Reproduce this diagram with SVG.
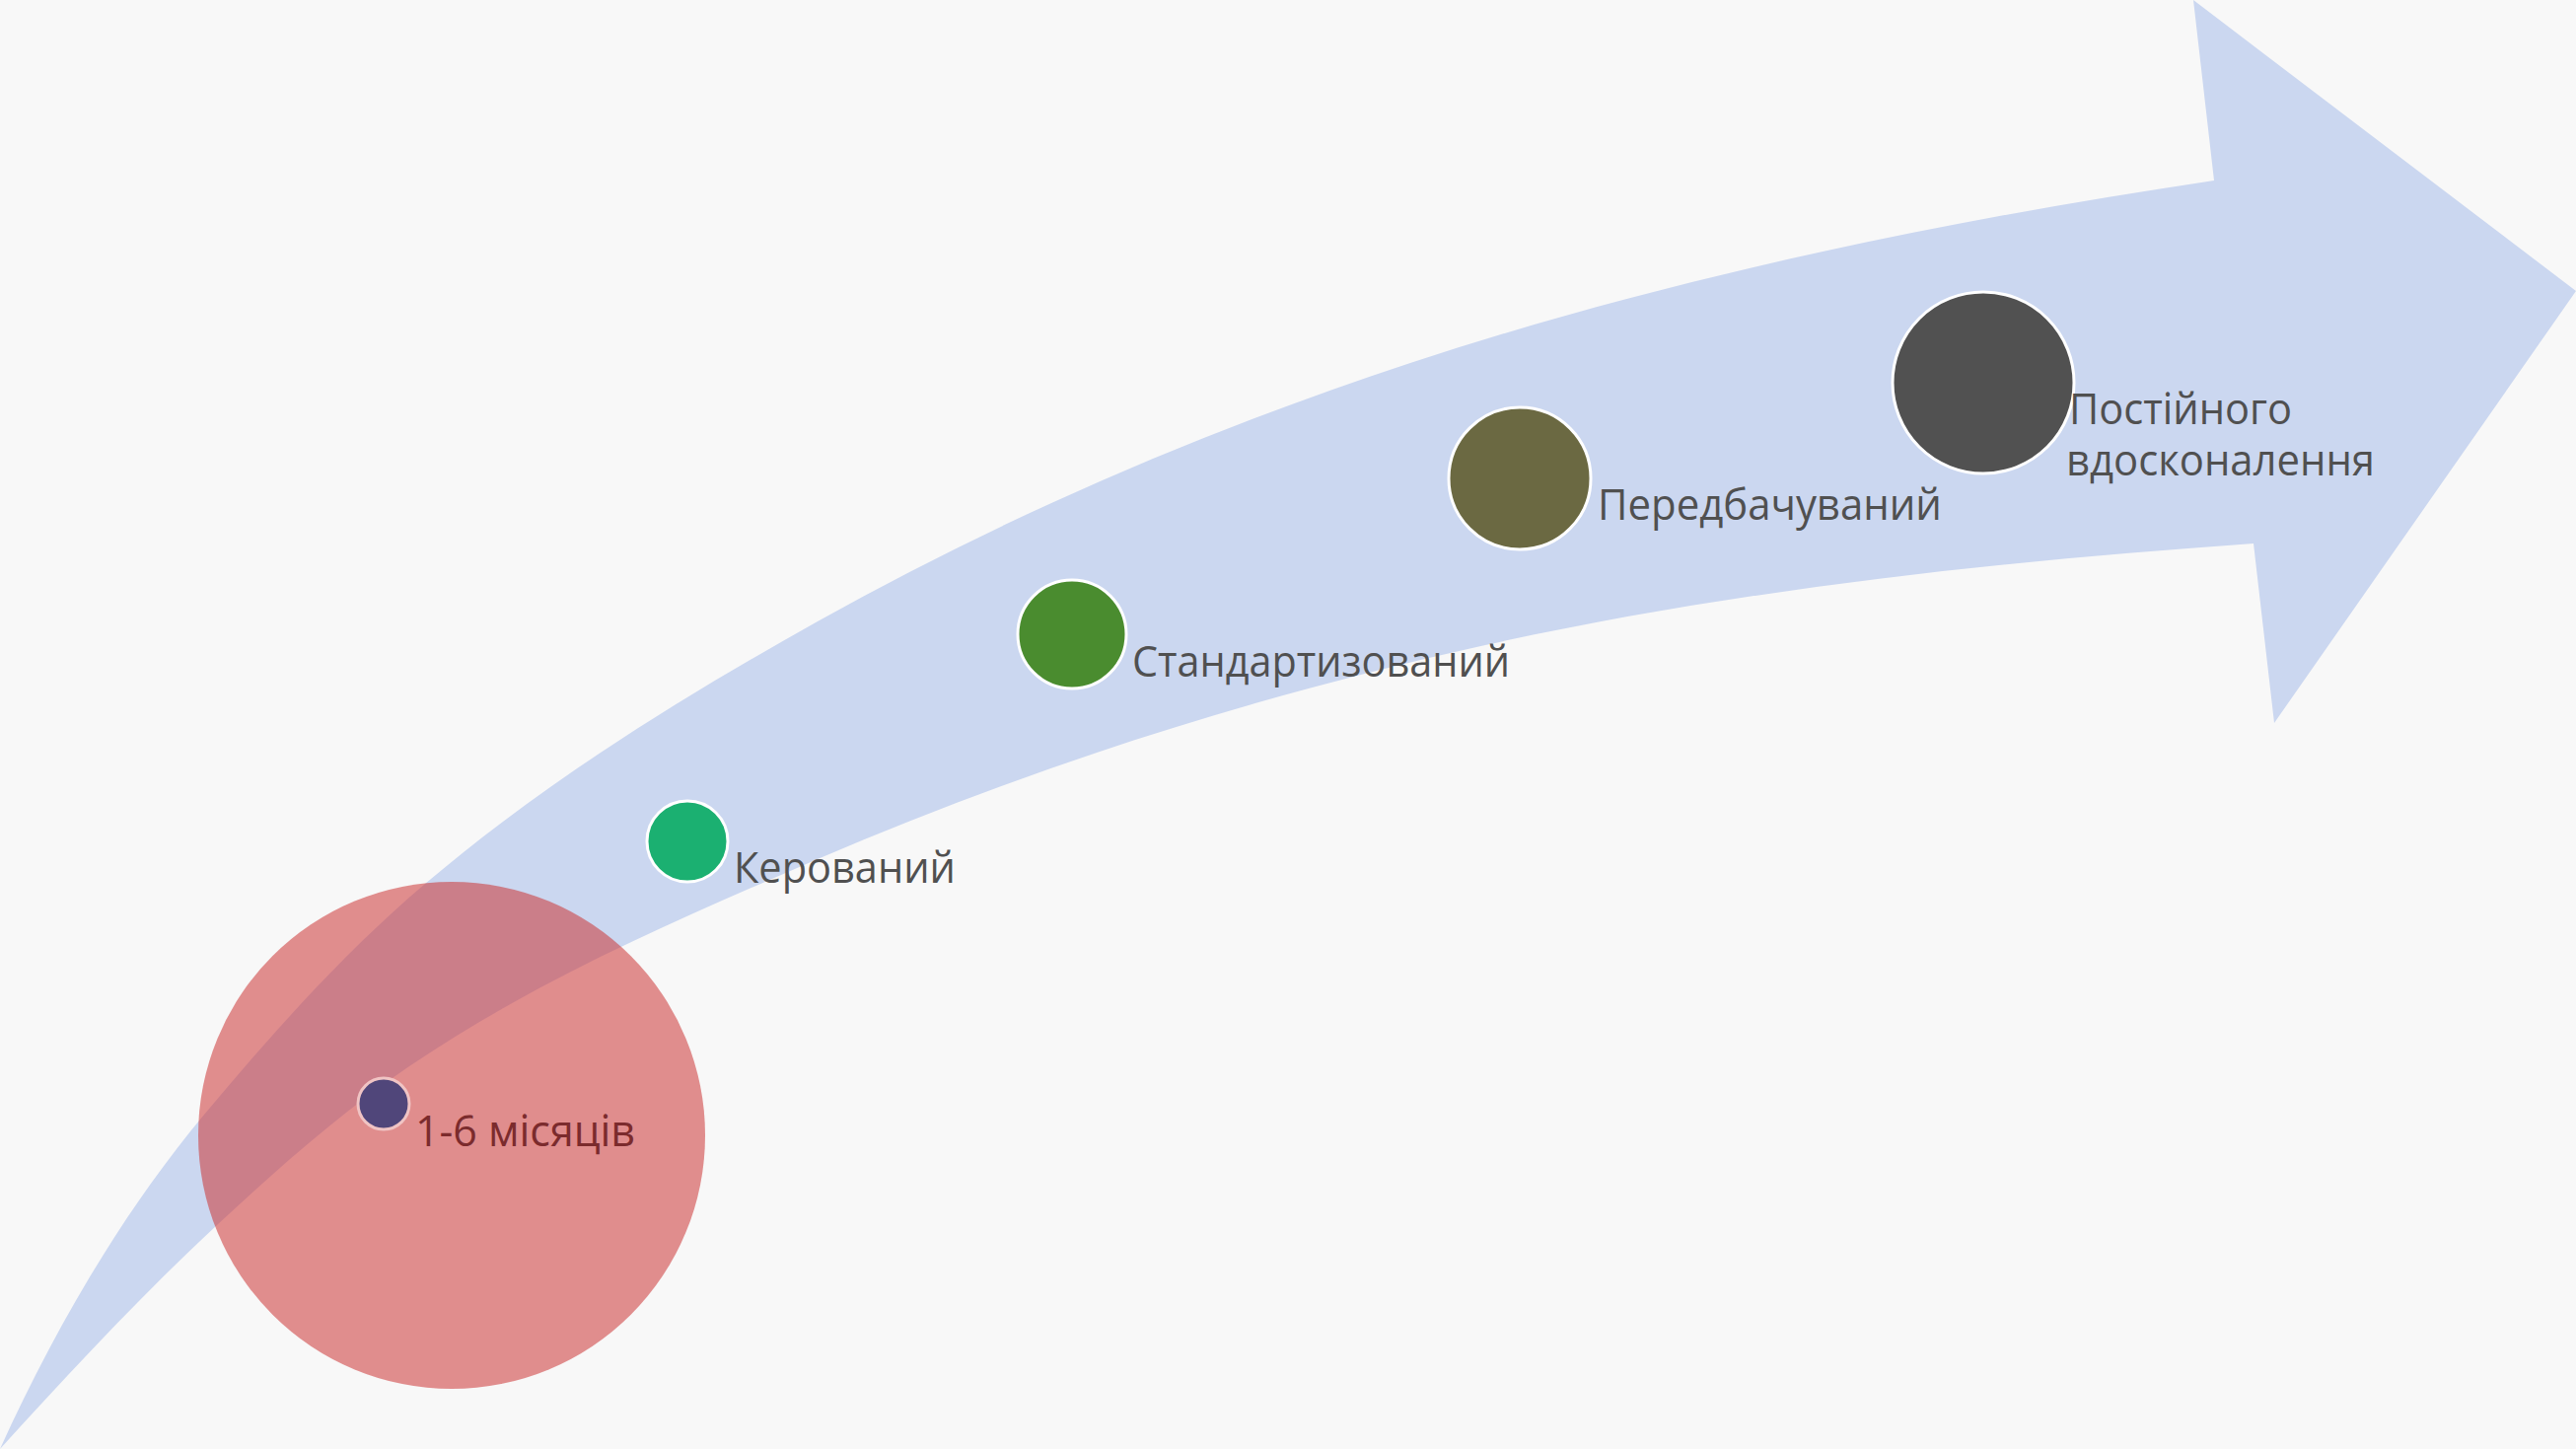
<svg xmlns="http://www.w3.org/2000/svg" width="2612" height="1469" viewBox="0 0 2612 1469">
<style>
.lbl{font-family:"Segoe UI","Open Sans","Noto Sans",sans-serif;font-size:44px;fill:#505050}
.dot{stroke:#ffffff;stroke-width:3}
</style>
<rect x="0" y="0" width="2612" height="1469" fill="#f8f8f8"/>
<g id="arrow">
<path fill="#cbd7f0" d="M 0 1469 C 54.6 1348.9, 122.5 1231.4, 207 1130 C 276.1 1047.1, 348.7 966, 431 896 C 552.6 792.6, 689.7 708, 829 630 C 1019.8 523.2, 1222.4 436.4, 1430 368 C 1694.7 280.8, 1969.5 224.2, 2245 183 L 2224 0 L 2612 295 L 2306 733 L 2285 551 C 2023.6 569.3, 1762 597.7, 1506 654 C 1274.5 705, 1046.8 777.4, 829 871 C 686.8 932.1, 542.9 994.1, 415 1081 C 345.3 1128.4, 281.7 1184.6, 220 1242 C 142.8 1313.8, 70.9 1391, 0 1469 Z"/>
</g>
<g id="period">
<circle cx="458" cy="1151" r="257" fill="#cc3434" fill-opacity="0.55"/>
</g>
<g id="node-initial">
<circle cx="389" cy="1119" r="26" fill="#50467a" stroke="#f0c4c4" stroke-width="3"/>
<text x="421" y="1162" class="lbl" style="fill:#7b2b2d" textLength="223" lengthAdjust="spacingAndGlyphs">1-6 місяців</text>
</g>
<g id="node-managed">
<circle cx="697" cy="853" r="41" fill="#1bb071" class="dot"/>
<text x="744" y="895" class="lbl" textLength="225" lengthAdjust="spacingAndGlyphs">Керований</text>
</g>
<g id="node-standardized">
<circle cx="1087" cy="643" r="55" fill="#4a8c2f" class="dot"/>
<text x="1148" y="686" class="lbl" textLength="383" lengthAdjust="spacingAndGlyphs">Стандартизований</text>
</g>
<g id="node-predictable">
<circle cx="1541" cy="485" r="72" fill="#6b6942" class="dot"/>
<text x="1620" y="527" class="lbl" textLength="349" lengthAdjust="spacingAndGlyphs">Передбачуваний</text>
</g>
<g id="node-continuous">
<circle cx="2011" cy="388" r="92" fill="#515151" class="dot"/>
<text class="lbl"><tspan x="2098" y="430" textLength="226" lengthAdjust="spacingAndGlyphs">Постійного</tspan><tspan x="2095" y="482" textLength="313" lengthAdjust="spacingAndGlyphs">вдосконалення</tspan></text>
</g>
<g id="connectors"></g>
</svg>
